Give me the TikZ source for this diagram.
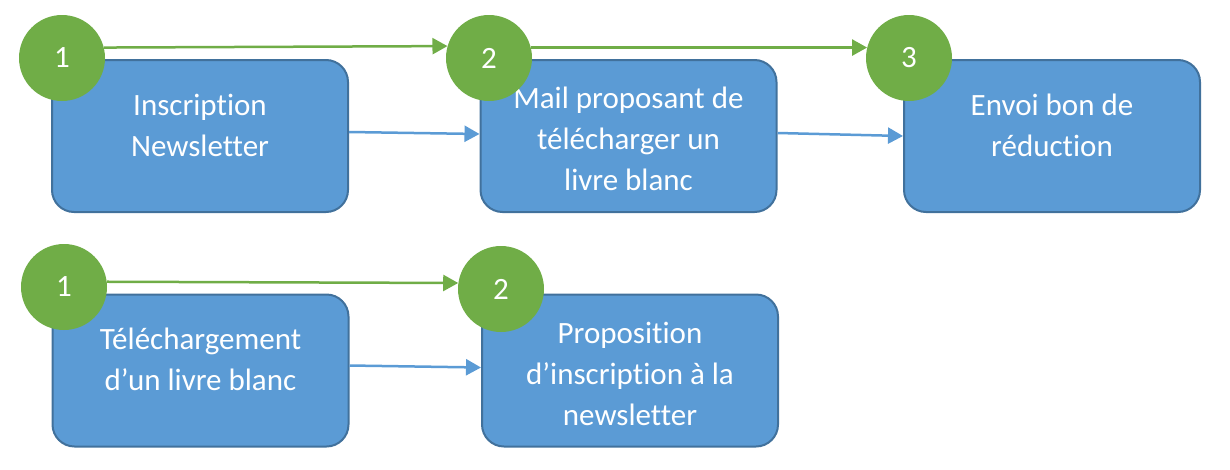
\documentclass[tikz,border=0pt]{standalone}
\usepackage{fontspec}
\setmainfont{Carlito}[Ligatures=NoCommon]
\usetikzlibrary{arrows.meta}
\definecolor{boxblue}{RGB}{91,155,213}
\definecolor{boxedge}{RGB}{65,113,156}
\definecolor{stepgreen}{RGB}{112,173,71}
\newcommand{\boxfont}{\fontsize{31}{41}\selectfont}

\begin{document}
\begin{tikzpicture}[x=1pt,y=-1pt,
    greenline/.style={draw=stepgreen,line width=2.5pt,-{Triangle[length=15pt,width=16pt]}},
    blueline/.style={draw=boxblue,line width=2.5pt,-{Triangle[length=15pt,width=16pt]}}]
    \useasboundingbox (0,0) rectangle (1230,469);
    \foreach \n/\x/\y/\s/\t in {
      b1/200/136/11/Inscription\\Newsletter,
      b2/628.5/136/-3/Mail proposant de\\télécharger un\\livre blanc,
      b3/1052/136/11/Envoi bon de\\réduction,
      b4/200.5/370.5/11/Téléchargement\\d’un livre blanc,
      b5/630/370.5/-3/Proposition\\d’inscription à la\\newsletter}
    {
      \node[draw=boxedge,fill=boxblue,line width=2pt,rounded corners=22pt,minimum width=296pt,minimum height=152pt] (\n) at (\x,\y) {};
      \node[text=white,align=center,font=\boxfont] (t\n) at ([yshift=\s pt]\n.center) {\t};
    }
    \foreach \n/\x/\y/\d in {c1/62/58/1, c2/489/58/2, c3/909/58/3, c4/64/287/1, c5/501/289/2}
    {
      \node[circle,fill=stepgreen,text=white,minimum size=86pt,inner sep=0pt,font=\boxfont] (\n) at (\x,\y) {\d};
    }
    \draw[greenline] (c1.14) -- (c2.164);
    \draw[greenline] (c2.14) -- (c3.166);
    \draw[greenline] (c4.7) -- (c5.172);
    \draw[blueline] ([yshift=4pt]b1.east) -- ([yshift=2pt]b2.west);
    \draw[blueline] ([yshift=3pt]b2.east) -- (b3.west);
    \draw[blueline] ([yshift=5pt]b4.east) -- ([yshift=3pt]b5.west);
  \end{tikzpicture}
\end{document}
